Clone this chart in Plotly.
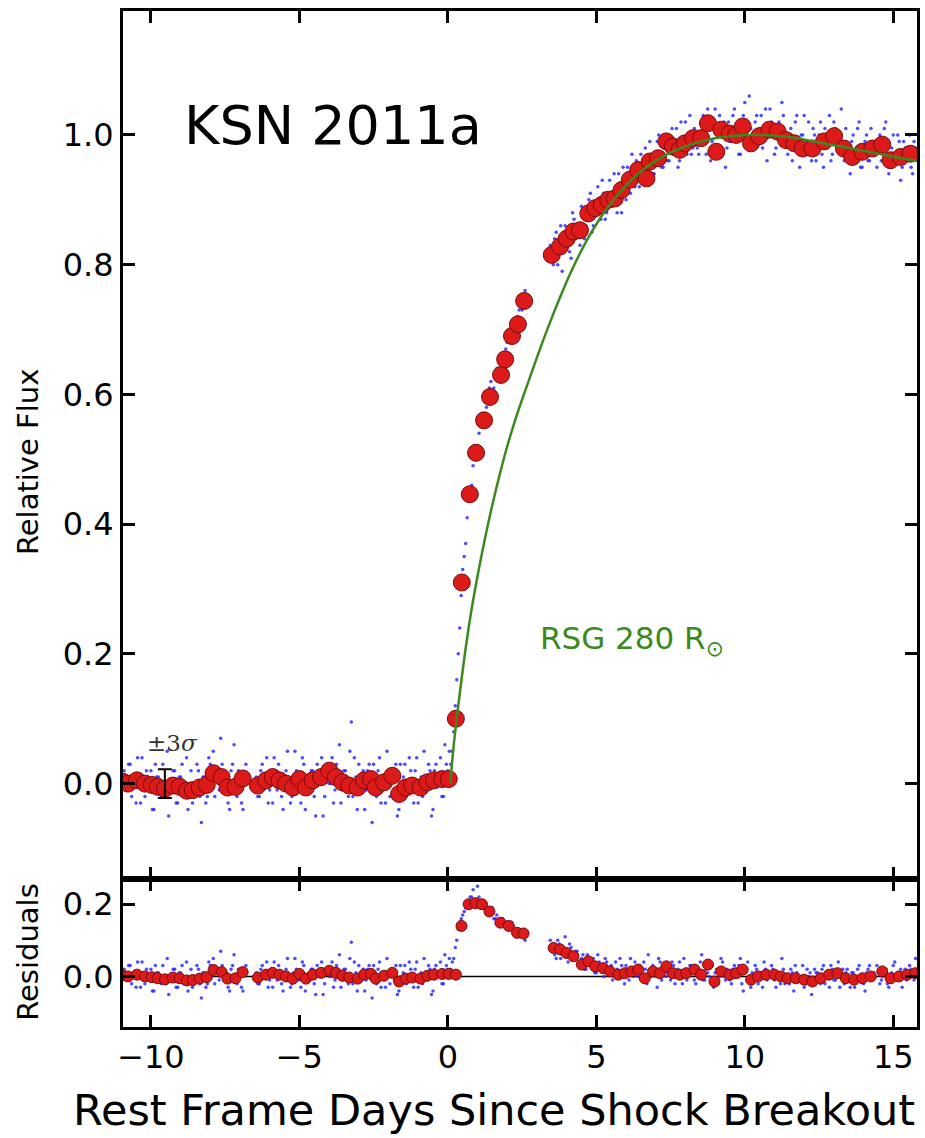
import plotly.graph_objects as go

# ---------------- data ----------------
# binned light curve (red circles), main panel
RED_X = [-10.95, -10.77, -10.47, -10.2, -9.97, -9.77, -9.53, -9.26, -9.03, -8.79, -8.59, -8.36, -8.12,
         -7.89, -7.62, -7.42, -7.15, -6.91,
         -6.40, -6.12, -5.90, -5.67, -5.45, -5.22, -5.0, -4.78, -4.55, -4.27, -3.99, -3.77, -3.55,
         -3.32, -3.04, -2.82, -2.59, -2.43, -2.15, -1.87, -1.64, -1.42, -1.20, -0.92, -0.69, -0.47,
         -0.19, 0.03,
         0.27, 0.47, 0.74, 0.95, 1.22, 1.42, 1.79, 1.93, 2.16, 2.36, 2.57,
         3.50, 3.78, 4.0, 4.23, 4.45, 4.73, 4.96, 5.18, 5.40, 5.62, 5.85, 6.13, 6.41, 6.69, 6.80,
         7.08, 7.36, 7.58, 7.81, 7.98, 8.26, 8.53, 8.76, 9.04, 9.21, 9.49, 9.71, 9.93, 10.21,
         10.49, 10.83, 11.11, 11.39, 11.67, 11.95, 12.28, 12.67, 13.01, 13.34, 13.62, 13.96,
         14.30, 14.63, 14.91, 15.25, 15.58]
RED_Y = [0.003, 0.0, 0.005, 0.0, -0.002, -0.005, -0.008, -0.003, -0.005, -0.011, -0.010, -0.006, -0.002,
         0.016, 0.010, -0.006, -0.005, 0.008,
         -0.003, 0.005, 0.010, 0.005, 0.0, -0.006, 0.007, -0.006, 0.005, 0.010, 0.020, 0.010, 0.002,
         -0.003, -0.006, 0.005, 0.007, -0.006, 0.002, 0.012, -0.016, -0.006, -0.003, -0.006, 0.002,
         0.005, 0.007, 0.007,
         0.100, 0.310, 0.446, 0.510, 0.560, 0.596, 0.630, 0.654, 0.690, 0.708, 0.744,
         0.815, 0.828, 0.840, 0.851, 0.853, 0.879, 0.887, 0.892, 0.900, 0.902, 0.915, 0.931, 0.946,
         0.933, 0.959, 0.964, 0.990, 0.982, 0.977, 0.987, 0.995, 0.995, 1.018, 0.974, 1.008, 1.002,
         1.000, 1.013, 0.987, 0.998, 1.008, 1.005, 0.992, 0.987, 0.979, 0.979, 0.990, 0.998, 0.979,
         0.966, 0.974, 0.979, 0.985, 0.961, 0.966, 0.971]

# binned residuals (red circles), lower panel
RES_RED_X = [-10.95, -10.77, -10.47, -10.2, -9.97, -9.77, -9.53, -9.26, -9.03, -8.79, -8.59, -8.36, -8.12,
             -7.89, -7.62, -7.42, -7.15, -6.91,
             -6.40, -6.12, -5.90, -5.67, -5.45, -5.22, -5.0, -4.78, -4.55, -4.27, -3.99, -3.77, -3.55,
             -3.32, -3.04, -2.82, -2.59, -2.43, -2.15, -1.87, -1.64, -1.42, -1.20, -0.92, -0.69, -0.47,
             -0.19, 0.03,
             0.27, 0.46, 0.70, 0.93, 1.15, 1.40, 1.77, 2.05, 2.33, 2.55,
             3.56, 3.78, 4.0, 4.23, 4.51, 4.73, 4.96, 5.23, 5.46, 5.74, 5.96, 6.19, 6.41, 6.63, 6.91,
             7.14, 7.36, 7.58, 7.81, 8.03, 8.31, 8.53, 8.76, 8.98, 9.21, 9.49, 9.71, 9.93, 10.21,
             10.44, 10.72, 11.0, 11.22, 11.44, 11.72, 12.0, 12.28, 12.56, 12.84, 13.12, 13.40, 13.68,
             13.96, 14.24, 14.63, 14.91, 15.19, 15.47, 15.75]
RES_RED_Y = [0.003, 0.0, 0.005, 0.0, -0.002, -0.005, -0.008, -0.003, -0.005, -0.011, -0.010, -0.006, -0.002,
             0.018, 0.012, -0.006, -0.005, 0.012,
             -0.003, 0.005, 0.010, 0.005, 0.0, -0.006, 0.007, -0.006, 0.005, 0.010, 0.016, 0.010, 0.002,
             -0.003, -0.006, 0.005, 0.007, -0.006, 0.002, 0.010, -0.014, -0.006, -0.003, -0.006, 0.002,
             0.005, 0.007, 0.007,
             0.005, 0.140, 0.200, 0.203, 0.200, 0.180, 0.149, 0.140, 0.121, 0.119,
             0.079, 0.075, 0.065, 0.056, 0.033, 0.042, 0.028, 0.023, 0.014, 0.005, 0.009, 0.014, 0.019,
             -0.005, 0.014, 0.009, 0.028, 0.009, 0.005, 0.009, 0.019, 0.005, 0.033, -0.014, 0.014,
             0.005, 0.009, 0.019, -0.009, 0.0, 0.005, 0.005, 0.0, -0.005, -0.005, -0.009, -0.014,
             -0.005, 0.005, 0.009, -0.005, -0.009, -0.005, 0.0, 0.014, -0.005, 0.0, 0.005, 0.009]

# individual exposures (blue dots): segments of the light curve at 0.1-day cadence,
# two interleaved series (second one shifted by half a step)
BLUE_STEP = 0.1
BLUE_SEG_START = [-10.9, -6.45, 0.1, 3.45]
BLUE_SEG_START2 = [-10.85, -6.40, 0.15, 3.50]

BLUE_FLUX_A = [0.02, -0.01, 0.03, 0.00, -0.03, 0.01, 0.04, -0.02, 0.00, 0.02,
               -0.04, 0.01, -0.01, 0.03, -0.02, -0.05, 0.00, 0.02, -0.03, 0.01,
               -0.02, 0.04, -0.01, -0.03, 0.00, 0.02, -0.06, 0.01, -0.02, 0.03,
               0.05, 0.02, -0.01, 0.03, 0.00, -0.03, 0.02, 0.06, -0.02, 0.01,
               -0.04, 0.03]
BLUE_FLUX_B = [0.01, -0.02, 0.03, 0.00, -0.03, 0.02, 0.04, -0.01, 0.01, -0.04,
               0.02, 0.00, -0.02, 0.05, 0.01, -0.03, 0.03, -0.01, 0.00, 0.02,
               -0.05, 0.01, 0.04, -0.02, 0.02, 0.00, -0.03, 0.03, 0.06, -0.01,
               0.02, -0.02, 0.095, 0.04, -0.04, 0.00, 0.02, -0.01, 0.03, -0.06,
               0.01, 0.02, -0.03, 0.00, 0.05, -0.02, 0.01, 0.03, -0.04, 0.00,
               0.03, -0.01, 0.02, -0.03, 0.04, 0.00, -0.02, 0.01, 0.03, -0.05,
               0.02, 0.00, 0.04, -0.02, 0.03, 0.05]
BLUE_FLUX_C = [0.03, 0.08, 0.16, 0.24, 0.33, 0.37, 0.44, 0.46, 0.51, 0.52,
               0.55, 0.55, 0.58, 0.61, 0.60, 0.63, 0.62, 0.65, 0.66, 0.68,
               0.68, 0.71, 0.70, 0.73, 0.73, 0.76]
BLUE_FLUX_D = [0.83, 0.80, 0.85, 0.82, 0.79, 0.86, 0.84, 0.81, 0.87, 0.85,
               0.83, 0.88, 0.86, 0.90, 0.85, 0.89, 0.92, 0.87, 0.91, 0.88,
               0.93, 0.89, 0.90, 0.94, 0.88, 0.92, 0.95, 0.91, 0.93, 0.96,
               0.92, 0.95, 0.98, 0.93, 0.96, 0.94, 0.99, 0.97, 0.95, 1.00,
               0.96, 1.01, 0.98, 0.95, 1.02, 0.99, 0.97, 1.03, 0.98, 1.00,
               0.97, 1.02, 0.99, 1.04, 0.96, 1.01, 0.98, 1.03, 1.00, 0.95,
               1.02, 0.99, 1.04, 1.01, 0.97, 1.03, 1.00, 1.06, 0.98, 1.02,
               0.99, 1.03, 1.01, 0.96, 1.04, 1.00, 0.98, 1.02, 1.05, 0.99,
               0.97, 1.01, 0.99, 1.03, 0.95, 1.00, 0.98, 1.02, 0.96, 1.00,
               0.98, 1.02, 0.95, 1.00, 1.03, 0.97, 1.01, 0.99, 1.04, 0.96,
               0.98, 0.94, 1.00, 0.97, 1.02, 0.95, 0.99, 0.96, 1.01, 0.98,
               0.95, 1.00, 0.97, 1.02, 0.94, 0.98, 0.96, 1.00, 0.93, 0.99,
               0.96, 1.00, 0.94, 0.98, 0.92]

BLUE_FLUX_A2 = [-0.01, 0.03, -0.02, 0.01, 0.04, -0.03, 0.00, 0.02, -0.01, -0.04,
                0.03, 0.01, -0.02, 0.00, 0.05, -0.01, 0.02, -0.03, 0.01, 0.03,
                -0.01, -0.04, 0.02, 0.00, 0.03, -0.02, 0.01, -0.03, 0.04, 0.00,
                -0.02, 0.02, 0.07, -0.01, 0.01, -0.04, 0.03, 0.00, 0.02, -0.03,
                0.01]
BLUE_FLUX_B2 = [-0.02, 0.02, 0.00, 0.04, -0.01, -0.03, 0.01, 0.03, -0.02, 0.00,
                0.05, -0.03, 0.01, 0.02, -0.01, 0.04, -0.04, 0.00, 0.02, -0.02,
                0.03, 0.01, -0.05, 0.02, 0.00, 0.04, -0.01, 0.01, -0.03, 0.02,
                0.00, 0.05, -0.02, 0.01, 0.03, -0.01, -0.04, 0.02, 0.00, 0.03,
                -0.02, 0.04, 0.01, -0.03, 0.00, 0.02, -0.01, -0.05, 0.03, 0.01,
                -0.02, 0.04, 0.00, 0.02, -0.03, 0.01, 0.05, -0.01, 0.02, -0.04,
                0.03, 0.01, -0.02, 0.06, 0.02]
BLUE_FLUX_C2 = [0.05, 0.12, 0.20, 0.29, 0.35, 0.41, 0.45, 0.49, 0.50, 0.54,
                0.56, 0.57, 0.59, 0.62, 0.61, 0.64, 0.63, 0.66, 0.67, 0.69,
                0.70, 0.70, 0.72, 0.74, 0.75]
BLUE_FLUX_D2 = [0.81, 0.84, 0.80, 0.86, 0.83, 0.85, 0.82, 0.88, 0.84, 0.86,
                0.89, 0.84, 0.87, 0.91, 0.86, 0.88, 0.90, 0.93, 0.87, 0.90,
                0.91, 0.94, 0.88, 0.92, 0.95, 0.90, 0.93, 0.97, 0.92, 0.94,
                0.97, 0.93, 0.95, 0.99, 0.94, 0.97, 1.00, 0.95, 0.98, 0.96,
                0.99, 0.97, 1.01, 0.96, 0.98, 1.02, 0.99, 0.97, 1.01, 0.98,
                1.00, 1.03, 0.97, 1.01, 0.99, 1.04, 0.98, 1.00, 1.02, 0.98,
                0.99, 1.03, 1.00, 0.97, 1.02, 1.05, 0.99, 1.01, 0.98, 1.03,
                1.01, 0.98, 1.04, 1.00, 1.02, 0.97, 1.01, 0.99, 1.03, 1.00,
                0.99, 0.96, 1.02, 0.98, 1.00, 1.03, 0.97, 0.99, 1.01, 0.96,
                1.00, 0.97, 1.01, 0.99, 0.96, 1.02, 0.98, 1.00, 0.97, 1.01,
                0.96, 0.99, 0.97, 1.01, 0.95, 0.98, 1.00, 0.96, 0.99, 0.97,
                0.99, 0.96, 1.01, 0.97, 0.95, 1.00, 0.97, 0.99, 0.95, 0.98,
                0.97, 0.95, 0.99, 0.96]

# residuals of the blue dots (before breakout the model is zero, so they equal the flux)
BLUE_RES_A = BLUE_FLUX_A
BLUE_RES_B = BLUE_FLUX_B
BLUE_RES_C = [0.02, 0.05, 0.10, 0.15, 0.17, 0.19, 0.21, 0.22, 0.20, 0.25,
              0.19, 0.21, 0.18, 0.17, 0.19, 0.16, 0.15, 0.16, 0.14, 0.15,
              0.13, 0.14, 0.12, 0.11, 0.13, 0.10]
BLUE_RES_D = [0.10, 0.07, 0.05, 0.09, 0.06, 0.11, 0.04, 0.08, 0.05, 0.07,
              0.03, 0.06, 0.02, 0.05, 0.04, 0.01, 0.06, 0.03, 0.00, 0.04,
              0.02, -0.01, 0.04, 0.01, 0.03, -0.02, 0.02, 0.05, 0.00, 0.01,
              0.03, -0.01, 0.02, 0.06, 0.00, 0.01, -0.03, 0.04, 0.02, 0.00,
              0.01, 0.04, -0.02, 0.02, 0.00, 0.05, -0.01, 0.03, 0.01, -0.02,
              0.02, 0.06, -0.01, 0.01, 0.03, -0.03, 0.02, 0.00, 0.04, -0.01,
              0.01, -0.02, 0.03, 0.00, 0.05, -0.04, 0.02, -0.01, 0.01, 0.03,
              -0.02, 0.01, 0.04, -0.01, 0.00, 0.02, -0.03, 0.01, 0.05, -0.02,
              0.00, 0.02, -0.04, 0.01, -0.01, 0.03, -0.02, 0.00, -0.05, 0.02,
              0.01, -0.02, 0.03, 0.00, -0.03, 0.02, -0.01, 0.04, 0.00, -0.02,
              0.02, -0.03, 0.01, -0.01, 0.03, 0.00, -0.04, 0.02, -0.01, 0.01,
              0.03, -0.02, 0.00, 0.02, -0.03, 0.01, 0.04, -0.01, 0.02, 0.00,
              -0.01, 0.03, 0.00, 0.05, -0.02]
BLUE_RES_A2 = BLUE_FLUX_A2
BLUE_RES_B2 = BLUE_FLUX_B2
BLUE_RES_C2 = [0.04, 0.08, 0.13, 0.16, 0.18, 0.20, 0.22, 0.24, 0.21, 0.22,
               0.20, 0.19, 0.18, 0.19, 0.16, 0.17, 0.15, 0.16, 0.14, 0.13,
               0.15, 0.12, 0.13, 0.12, 0.11]
BLUE_RES_D2 = [0.08, 0.06, 0.10, 0.05, 0.08, 0.06, 0.09, 0.05, 0.07, 0.04,
               0.05, 0.02, 0.06, 0.03, 0.05, 0.01, 0.04, 0.02, 0.05, 0.01,
               0.03, 0.00, 0.02, 0.05, 0.01, 0.03, -0.01, 0.02, 0.04, 0.00,
               0.02, 0.04, -0.02, 0.01, 0.03, 0.00, 0.05, -0.01, 0.02, 0.01,
               -0.01, 0.03, 0.01, 0.04, -0.02, 0.02, 0.00, 0.03, -0.01, 0.02,
               0.04, -0.01, 0.02, 0.00, 0.03, 0.01, -0.02, 0.05, 0.00, 0.02,
               -0.01, 0.02, 0.00, 0.03, -0.02, 0.01, 0.04, -0.03, 0.00, 0.02,
               0.01, -0.03, 0.02, 0.00, 0.03, -0.01, 0.01, -0.02, 0.02, 0.00,
               -0.02, 0.01, 0.03, -0.01, 0.00, -0.03, 0.02, 0.01, -0.02, 0.01,
               0.00, 0.02, -0.02, 0.01, 0.03, -0.01, 0.00, -0.03, 0.02, 0.01,
               -0.01, 0.01, -0.03, 0.02, 0.00, -0.02, 0.01, 0.03, -0.01, 0.00,
               0.01, -0.01, 0.02, -0.02, 0.00, 0.03, -0.01, 0.01, -0.03, 0.02,
               0.00, 0.02, -0.01, 0.01]

# RSG 280 Rsun model curve
MODEL_X = [0.08, 0.2, 0.35, 0.55, 0.75, 1.0, 1.25, 1.5, 1.75, 2.0, 2.3, 2.6, 2.9, 3.2, 3.5, 3.8,
           4.1, 4.4, 4.8, 5.3, 5.8, 6.4, 7.0, 7.6, 8.3, 9.0, 9.8, 10.6, 11.4, 12.2, 13.0, 13.8,
           14.6, 15.4, 15.8]
MODEL_Y = [0.0, 0.06, 0.12, 0.192, 0.255, 0.32, 0.378, 0.43, 0.477, 0.52, 0.565, 0.605, 0.644,
           0.682, 0.718, 0.752, 0.784, 0.813, 0.847, 0.883, 0.912, 0.940, 0.960, 0.975, 0.987,
           0.995, 0.999, 1.000, 0.997, 0.991, 0.984, 0.977, 0.970, 0.963, 0.960]

X_TICKS = [-10, -5, 0, 5, 10, 15]
Y_TICKS = [0.0, 0.2, 0.4, 0.6, 0.8, 1.0]
RES_TICKS = [0.0, 0.2]

SIGMA_X = [-9.53]
SIGMA_Y = [0.0]
SIGMA_ERR = 0.022

# ---------------- assemble ----------------
def seg_x(start, vals):
    return [round(start + BLUE_STEP * i, 3) for i in range(len(vals))]

bx, by, rx, ry = [], [], [], []
for starts, fsegs, rsegs in (
        (BLUE_SEG_START, [BLUE_FLUX_A, BLUE_FLUX_B, BLUE_FLUX_C, BLUE_FLUX_D],
         [BLUE_RES_A, BLUE_RES_B, BLUE_RES_C, BLUE_RES_D]),
        (BLUE_SEG_START2, [BLUE_FLUX_A2, BLUE_FLUX_B2, BLUE_FLUX_C2, BLUE_FLUX_D2],
         [BLUE_RES_A2, BLUE_RES_B2, BLUE_RES_C2, BLUE_RES_D2])):
    for s, fv, rv in zip(starts, fsegs, rsegs):
        bx += seg_x(s, fv); by += fv
        rx += seg_x(s, rv); ry += rv

RED = "#dc1a1a"
REDLINE = "#7a0a0a"
BLUE = "#2b2bff"
GREEN = "#3b8a1f"

fig = go.Figure()
fig.add_trace(go.Scatter(x=bx, y=by, mode="markers", xaxis="x", yaxis="y",
                         marker=dict(size=3.5, color=BLUE, opacity=0.85), hoverinfo="skip"))
fig.add_trace(go.Scatter(x=RED_X, y=RED_Y, mode="markers", xaxis="x", yaxis="y",
                         marker=dict(size=17, color=RED, line=dict(color=REDLINE, width=1))))
fig.add_trace(go.Scatter(x=MODEL_X, y=MODEL_Y, mode="lines", xaxis="x", yaxis="y",
                         line=dict(color=GREEN, width=2.5, shape="spline", smoothing=0.8)))
fig.add_trace(go.Scatter(x=SIGMA_X, y=SIGMA_Y, mode="markers", xaxis="x", yaxis="y",
                         marker=dict(size=1, color="black", opacity=0),
                         error_y=dict(type="constant", value=SIGMA_ERR, color="black",
                                      thickness=2, width=7)))
fig.add_trace(go.Scatter(x=rx, y=ry, mode="markers", xaxis="x2", yaxis="y2",
                         marker=dict(size=3.5, color=BLUE, opacity=0.85), hoverinfo="skip"))
fig.add_trace(go.Scatter(x=RES_RED_X, y=RES_RED_Y, mode="markers", xaxis="x2", yaxis="y2",
                         marker=dict(size=11, color=RED, line=dict(color=REDLINE, width=1))))

fig.add_shape(type="line", xref="x2 domain", x0=0, x1=1, yref="y2", y0=0, y1=0,
              line=dict(color="black", width=1.5), layer="below")

axis_common = dict(showline=True, linewidth=3, linecolor="black", mirror="allticks",
                   ticks="inside", ticklen=12, tickwidth=2.5, tickcolor="black",
                   showgrid=False, zeroline=False,
                   tickfont=dict(family="DejaVu Sans", size=32, color="black"))

XR = [-10.94, 15.8]
fig.update_layout(
    width=925, height=1138,
    margin=dict(l=123, r=5, t=11, b=111),
    plot_bgcolor="white", paper_bgcolor="white",
    showlegend=False,
    font=dict(family="DejaVu Sans", size=32, color="black"),
    xaxis=dict(domain=[0, 1], anchor="y", range=XR, tickvals=X_TICKS,
               showticklabels=False, **axis_common),
    yaxis=dict(domain=[0.1457, 1], anchor="x", range=[-0.147, 1.191], tickvals=Y_TICKS,
               tickformat=".1f", **axis_common),
    xaxis2=dict(domain=[0, 1], anchor="y2", range=XR, tickvals=X_TICKS, matches="x",
                **axis_common),
    yaxis2=dict(domain=[0, 0.1457], anchor="x2", range=[-0.14, 0.27], tickvals=RES_TICKS,
                tickformat=".1f", **axis_common),
)

fig.add_annotation(text="KSN 2011a", xref="x", yref="y", x=-8.96, y=1.015,
                   xanchor="left", yanchor="middle", showarrow=False,
                   font=dict(family="DejaVu Sans", size=54, color="black"))
fig.add_annotation(text="RSG 280 R<sub>⊙</sub>", xref="x", yref="y", x=3.05, y=0.22,
                   xanchor="left", yanchor="middle", showarrow=False,
                   font=dict(family="DejaVu Sans", size=31, color=GREEN))
fig.add_annotation(text="±3<i>σ</i>", xref="x", yref="y", x=-10.2, y=0.063,
                   xanchor="left", yanchor="middle", showarrow=False,
                   font=dict(family="DejaVu Serif", size=23, color="#333333"))
fig.add_annotation(text="Relative Flux", xref="paper", yref="paper", x=0, y=0.556,
                   xshift=-95, textangle=-90, xanchor="center", yanchor="middle",
                   showarrow=False, font=dict(family="DejaVu Sans", size=29, color="black"))
fig.add_annotation(text="Residuals", xref="paper", yref="paper", x=0, y=0.074,
                   xshift=-95, textangle=-90, xanchor="center", yanchor="middle",
                   showarrow=False, font=dict(family="DejaVu Sans", size=29, color="black"))
fig.add_annotation(text="Rest Frame Days Since Shock Breakout", xref="paper", yref="paper",
                   x=0.467, y=-0.0817, xanchor="center", yanchor="middle", showarrow=False,
                   font=dict(family="DejaVu Sans", size=43, color="black"))

fig.write_html("out.html")
